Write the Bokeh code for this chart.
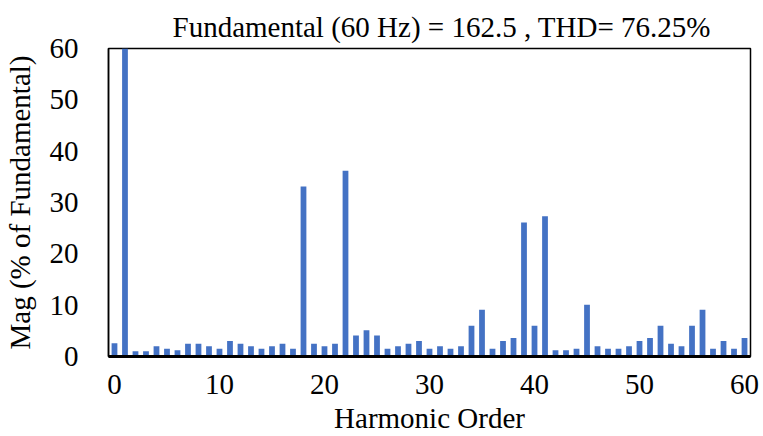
from bokeh.plotting import figure
from bokeh.models import ColumnDataSource, Range1d, FixedTicker
from bokeh.embed import file_html
from bokeh.resources import INLINE

harmonic_order = list(range(0, 61))
magnitude = [
    2.6, 100.0, 1.0, 1.0, 2.0, 1.5, 1.2, 2.5, 2.5, 2.0,
    1.5, 3.0, 2.5, 2.0, 1.5, 2.0, 2.5, 1.5, 33.1, 2.5,
    2.0, 2.5, 36.2, 4.1, 5.1, 4.1, 1.5, 2.0, 2.5, 3.0,
    1.5, 2.0, 1.5, 2.0, 6.0, 9.1, 1.5, 3.0, 3.6, 26.1,
    6.0, 27.3, 1.2, 1.2, 1.5, 10.1, 2.0, 1.5, 1.5, 2.0,
    3.0, 3.6, 6.0, 2.5, 2.0, 6.0, 9.1, 1.5, 3.0, 1.5,
    3.6,
]
x_ticks = [0, 10, 20, 30, 40, 50, 60]
y_ticks = [0, 10, 20, 30, 40, 50, 60]
title_text = "Fundamental (60 Hz) = 162.5 , THD= 76.25%"

src = ColumnDataSource(dict(x=harmonic_order, top=magnitude))

FONT = "Liberation Serif"

p = figure(width=763, height=436, output_backend="svg", toolbar_location=None,
           x_range=Range1d(-0.57, 60.57), y_range=Range1d(0, 60),
           min_border_left=108, min_border_right=13, min_border_top=48, min_border_bottom=80)

p.vbar(x="x", top="top", width=0.55, bottom=0, source=src, fill_color="#4472C4", line_color=None)

p.title.text = title_text
p.title.align = "left"
p.title.offset = 64
p.title.text_font = FONT
p.title.text_font_size = "29px"
p.title.text_font_style = "normal"
p.title.text_color = "black"
p.title.standoff = 12

p.xgrid.visible = False
p.ygrid.visible = False
p.outline_line_color = "black"
p.outline_line_width = 1.5

for ax in (p.xaxis, p.yaxis):
    ax.major_label_text_font = FONT
    ax.major_label_text_font_size = "29px"
    ax.major_label_text_color = "black"
    ax.axis_label_text_font = FONT
    ax.axis_label_text_font_size = "29px"
    ax.axis_label_text_font_style = "normal"
    ax.axis_label_text_color = "black"
    ax.major_tick_line_color = None
    ax.minor_tick_line_color = None

p.xaxis.ticker = FixedTicker(ticks=x_ticks)
p.yaxis.ticker = FixedTicker(ticks=y_ticks)
p.xaxis.axis_label = "Harmonic Order"
p.yaxis.axis_label = "Mag (% of Fundamental)"
p.xaxis.axis_line_width = 3
p.xaxis.axis_line_color = "black"
p.yaxis.axis_line_width = 1.5
p.xaxis.major_label_standoff = 12
p.yaxis.major_label_standoff = 24
p.xaxis.axis_label_standoff = 5
p.yaxis.axis_label_standoff = 11

open("out.html", "w").write(file_html(p, INLINE))
